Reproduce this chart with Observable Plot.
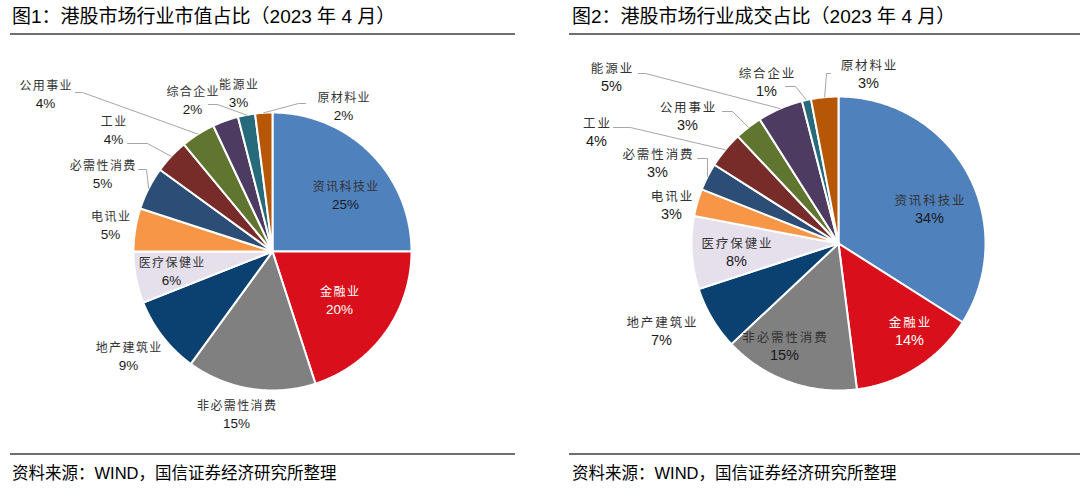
<!DOCTYPE html>
<html><head><meta charset="utf-8">
<script src="https://cdn.jsdelivr.net/npm/d3@7"></script>
<script src="https://cdn.jsdelivr.net/npm/@observablehq/plot@0.6"></script>
<style>
body{margin:0;background:#fff;}
#root{position:relative;width:1080px;height:489px;overflow:hidden;font-family:"Liberation Sans","Noto Sans CJK SC",sans-serif;}
.title{position:absolute;top:4px;font-size:19px;color:#000;white-space:nowrap;line-height:26px;}
.rule{position:absolute;height:2px;background:#707070;}
.src{position:absolute;top:461px;font-size:16.5px;color:#000;white-space:nowrap;line-height:24px;}
.panel{position:absolute;top:36px;}
</style></head>
<body><div id="root"></div>
<script>
// ---- data ----
const categories = ["资讯科技业","金融业","非必需性消费","地产建筑业","医疗保健业","电讯业","必需性消费","工业","公用事业","能源业","综合企业","原材料业"];
const marketCapShare = [25,20,15,9,6,5,5,4,4,3,2,2];   // 图1 市值占比 %
const turnoverShare  = [34,14,15,7,8,3,3,4,3,5,1,3];   // 图2 成交占比 %
const sliceColors = ["#4F81BD","#D9101B","#808080","#0A4170","#E6E0EC","#F79646","#2C4D75","#772C2A","#5F7530","#4D3B62","#266A7B","#B65708"];
const titles = ["图1：港股市场行业市值占比（2023 年 4 月）","图2：港股市场行业成交占比（2023 年 4 月）"];
const sourceNote = "资料来源：WIND，国信证券经济研究所整理";

// ---- layout (pixels, relative to pie centre) ----
const layouts = [
  { left: 0, cx: 272, cy: 215, r: 139, nameSize: 12, pctSize: 13.5, pctGap: 17, spacing: 1.4,
    white: ["金融业"],
    labels: {"资讯科技业":[73,-64],"金融业":[67,41],"非必需性消费":[-36,155],"地产建筑业":[-144,97],"医疗保健业":[-101,12],
             "电讯业":[-162,-34],"必需性消费":[-170,-85],"工业":[-159,-129],"公用事业":[-227,-165],"能源业":[-34,-166],
             "综合企业":[-80,-159],"原材料业":[71,-153]},
    leaders: {"必需性消费":[[-134,-82],[-126,-82]],"工业":[[-145,-108],[-125,-108]],"公用事业":[[-197,-159],[-190,-159]],
              "综合企业":[[-64,-147],[-55,-147]],"原材料业":[[33,-148],[26,-148]]} },
  { left: 540, cx: 298, cy: 207, r: 147, nameSize: 12.5, pctSize: 14.5, pctGap: 18, spacing: 1.9,
    white: ["金融业"],
    labels: {"资讯科技业":[91,-43],"金融业":[71,79],"非必需性消费":[-54,94],"地产建筑业":[-177,79],"医疗保健业":[-102,0],
             "电讯业":[-167,-47],"必需性消费":[-181,-89],"工业":[-242,-120],"公用事业":[-151,-136],"能源业":[-227,-175],
             "综合企业":[-72,-170],"原材料业":[30,-178]},
    leaders: {"必需性消费":[[-141,-85],[-131,-85]],"工业":[[-225,-116],[-208,-116]],"公用事业":[[-116,-132],[-106,-132]],
              "能源业":[[-200,-170],[-193,-170]],"综合企业":[[-53,-157],[-43,-157]],"原材料业":[[-8,-170],[-12,-170]]} }
];
const W = 540, H = 416;

function piePlot(values, L) {
  const total = d3.sum(values);
  let acc = 0;
  const slices = categories.map((name, i) => {
    const a0 = acc / total * 2 * Math.PI; acc += values[i];
    const a1 = acc / total * 2 * Math.PI;
    return {name, value: values[i], a0, a1, mid: (a0 + a1) / 2};
  });
  const pts = [];
  for (const s of slices) {
    pts.push({name: s.name, x: 0, y: 0});
    const n = Math.max(2, Math.ceil((s.a1 - s.a0) / (Math.PI / 360)));
    for (let k = 0; k <= n; k++) {
      const a = s.a0 + (s.a1 - s.a0) * k / n;
      pts.push({name: s.name, x: L.r * Math.sin(a), y: -L.r * Math.cos(a)});
    }
    pts.push({name: s.name, x: 0, y: 0});
  }
  const labels = slices.map(s => ({name: s.name, pct: s.value + "%", x: L.labels[s.name][0], y: L.labels[s.name][1]}));
  const leaderPts = [];
  for (const s of slices) {
    const ld = L.leaders[s.name];
    if (!ld) continue;
    for (const p of ld) leaderPts.push({name: s.name, x: p[0], y: p[1]});
    leaderPts.push({name: s.name, x: L.r * Math.sin(s.mid), y: -L.r * Math.cos(s.mid)});
  }
  const isWhite = d => L.white.includes(d.name);
  const nameFont = "Noto Sans CJK SC";
  const pctFont = "Liberation Sans, Arial, sans-serif";
  return Plot.plot({
    width: W, height: H, margin: 0,
    x: {domain: [-L.cx, W - L.cx], range: [0, W], axis: null},
    y: {domain: [-L.cy, H - L.cy], range: [0, H], axis: null},
    color: {domain: categories, range: sliceColors},
    style: {background: "transparent", overflow: "visible"},
    marks: [
      Plot.line(pts, {x: "x", y: "y", z: "name", fill: "name", stroke: "white", strokeWidth: 2, strokeLinejoin: "round", curve: "linear"}),
      Plot.line(leaderPts, {x: "x", y: "y", z: "name", stroke: "#A6A6A6", strokeWidth: 1, curve: "linear"}),
      Plot.text(labels.filter(d => !isWhite(d)), {x: "x", y: "y", text: "name", fill: "#333333", fontSize: L.nameSize, fontFamily: nameFont, dx: L.spacing / 2}),
      Plot.text(labels.filter(isWhite), {x: "x", y: "y", text: "name", fill: "white", fontSize: L.nameSize, fontFamily: nameFont, dx: L.spacing / 2}),
      Plot.text(labels.filter(d => !isWhite(d)), {x: "x", y: d => d.y + L.pctGap, text: "pct", fill: "#1a1a1a", fontSize: L.pctSize, fontFamily: pctFont}),
      Plot.text(labels.filter(isWhite), {x: "x", y: d => d.y + L.pctGap, text: "pct", fill: "white", fontSize: L.pctSize, fontFamily: pctFont})
    ]
  });
}

const root = document.getElementById("root");
[marketCapShare, turnoverShare].forEach((vals, i) => {
  const L = layouts[i];
  const t = document.createElement("div"); t.className = "title"; t.textContent = titles[i];
  t.style.left = (i === 0 ? 12 : 572) + "px"; root.appendChild(t);
  const r1 = document.createElement("div"); r1.className = "rule";
  r1.style.top = "33px"; r1.style.left = (i === 0 ? 10 : 569) + "px"; r1.style.width = (i === 0 ? 505 : 511) + "px"; root.appendChild(r1);
  const panel = document.createElement("div"); panel.className = "panel"; panel.style.left = L.left + "px";
  const svg = piePlot(vals, L);
  svg.querySelectorAll("text").forEach(el => {
    if (/[\u4e00-\u9fff]/.test(el.textContent)) el.setAttribute("letter-spacing", L.spacing);
  });
  panel.appendChild(svg); root.appendChild(panel);
  const r2 = document.createElement("div"); r2.className = "rule";
  r2.style.top = "453px"; r2.style.left = (i === 0 ? 10 : 569) + "px"; r2.style.width = (i === 0 ? 505 : 511) + "px"; root.appendChild(r2);
  const s = document.createElement("div"); s.className = "src"; s.textContent = sourceNote;
  s.style.left = (i === 0 ? 12 : 572) + "px"; root.appendChild(s);
});
</script>
</body></html>
